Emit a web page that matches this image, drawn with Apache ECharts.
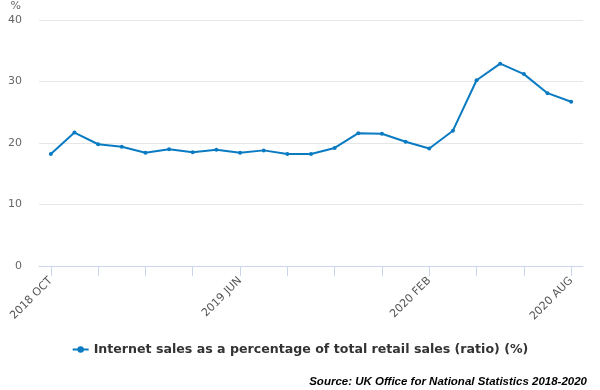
<!DOCTYPE html>
<html><head><meta charset="utf-8">
<script src="https://cdn.jsdelivr.net/npm/echarts@6/dist/echarts.min.js"></script>
<style>html,body{margin:0;padding:0;background:#fff}#c{width:600px;height:390px}</style>
</head><body><div id="c"></div>
<script>
const categories = ["2018 OCT","2018 NOV","2018 DEC","2019 JAN","2019 FEB","2019 MAR","2019 APR","2019 MAY","2019 JUN","2019 JUL","2019 AUG","2019 SEP","2019 OCT","2019 NOV","2019 DEC","2020 JAN","2020 FEB","2020 MAR","2020 APR","2020 MAY","2020 JUN","2020 JUL","2020 AUG"];
const values = [18.2,21.7,19.8,19.4,18.4,19.0,18.5,18.9,18.4,18.8,18.2,18.2,19.2,21.6,21.5,20.2,19.1,22.0,30.2,32.9,31.2,28.1,26.7];
const shownLabels = ["2018 OCT","2019 JUN","2020 FEB","2020 AUG"];
const seriesName = "Internet sales as a percentage of total retail sales (ratio) (%)";

const chart = echarts.init(document.getElementById('c'), null, {renderer:'canvas'});
chart.setOption({
  animation:false,
  textStyle:{fontFamily:'DejaVu Sans'},
  grid:{left:39,right:17,top:20,bottom:124},
  title:{
    text:'{b|Source:}{i| UK Office for National Statistics 2018-2020}',
    right:8, bottom:-3,
    textStyle:{rich:{
      b:{fontFamily:'Liberation Sans',fontStyle:'italic',fontWeight:'bold',fontSize:11.5,color:'#000'},
      i:{fontFamily:'Liberation Sans',fontStyle:'italic',fontSize:11.5,color:'#000'}
    }}
  },
  legend:{
    top:338, left:'center',
    itemWidth:16,itemHeight:8,
    textStyle:{fontSize:12.6,fontWeight:'bold',color:'#333'},
    data:[seriesName]
  },
  xAxis:{
    type:'category',data:categories,boundaryGap:true,
    axisLine:{lineStyle:{color:'#ccd6eb'}},
    axisTick:{show:true,alignWithLabel:true,interval:1,length:10,lineStyle:{color:'#ccd6eb'}},
    axisLabel:{rotate:45,fontSize:11,color:'#555',margin:13,
      interval:(i,v)=>shownLabels.includes(v)},
    splitLine:{show:false}
  },
  yAxis:{
    type:'value',min:0,max:40,interval:10,
    name:'%',nameLocation:'end',nameGap:8,
    nameTextStyle:{color:'#666',fontSize:11,align:'right',padding:[0,18,0,0]},
    axisLabel:{color:'#666',fontSize:11,margin:17},
    splitLine:{lineStyle:{color:'#e6e6e6'}},
    axisLine:{show:false},axisTick:{show:false}
  },
  series:[{
    name:seriesName,type:'line',data:values,
    color:'#0a7bc2',
    lineStyle:{width:2},
    symbol:'circle',symbolSize:4,showSymbol:true
  }]
});
</script></body></html>
